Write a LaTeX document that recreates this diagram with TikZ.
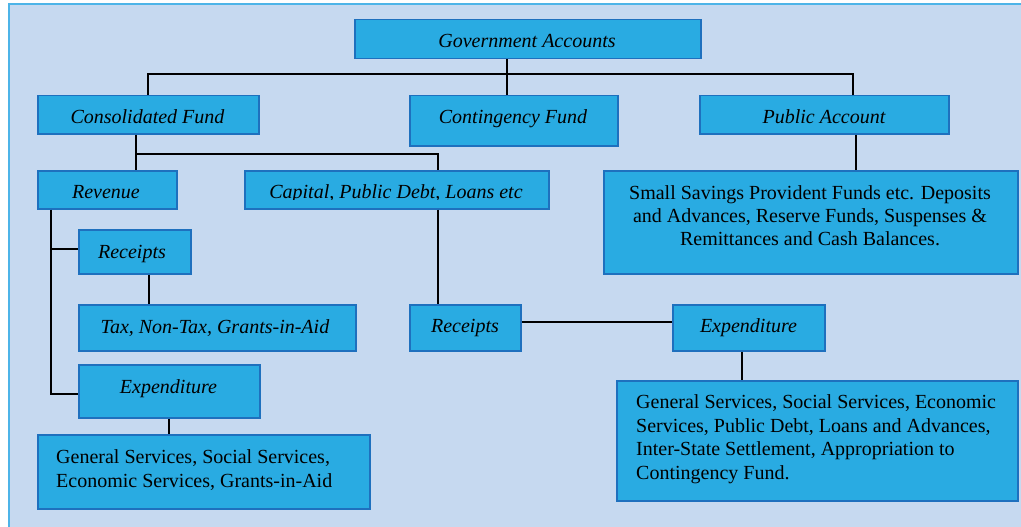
\documentclass[tikz,border=0pt]{standalone}
\usepackage{fontspec}
\setmainfont{Liberation Serif}
\usetikzlibrary{calc}
\definecolor{bgfill}{RGB}{198,217,240}
\definecolor{bgline}{RGB}{77,180,232}
\definecolor{boxfill}{RGB}{41,171,226}
\definecolor{boxline}{RGB}{30,112,190}
\tikzset{
  box/.style={draw=boxline, fill=boxfill, line width=1.5pt, inner sep=0pt, anchor=north west},
  lbl/.style={anchor=base, inner sep=0pt, font=\fontsize{20}{23}\selectfont\itshape},
  para/.style={anchor=base, inner sep=0pt, font=\fontsize{20}{23}\selectfont, align=center},
  paral/.style={anchor=base west, inner sep=0pt, font=\fontsize{20}{23.5}\selectfont, align=left},
  conn/.style={draw=black, line width=2pt},
}
\begin{document}
\begin{tikzpicture}[x=1pt,y=-1pt]
\useasboundingbox (0,0) rectangle (1021,527);
\draw[fill=bgfill, draw=bgline, line width=2pt] (9,4) rectangle (1024,530);

% boxes
\node[box, minimum width=346, minimum height=39] (gov) at (354,19) {};
\node[box, minimum width=221, minimum height=38] (cons) at (37,95) {};
\node[box, minimum width=208, minimum height=50] (cont) at (409,95) {};
\node[box, minimum width=249, minimum height=38] (pub) at (699,95) {};
\node[box, minimum width=139, minimum height=38] (rev) at (37,170) {};
\node[box, minimum width=304, minimum height=38] (cap) at (244,170) {};
\node[box, minimum width=414, minimum height=103] (sav) at (603,170) {};
\node[box, minimum width=112, minimum height=44] (recL) at (78,229) {};
\node[box, minimum width=277, minimum height=46] (tax) at (78,304) {};
\node[box, minimum width=181, minimum height=53] (expL) at (78,364) {};
\node[box, minimum width=332, minimum height=74] (genL) at (37,434) {};
\node[box, minimum width=111, minimum height=46] (recM) at (409,304) {};
\node[box, minimum width=152, minimum height=46] (expM) at (672,304) {};
\node[box, minimum width=401, minimum height=120] (genR) at (616,380) {};

% texts
\node[lbl] (tgov) at (527,48) {Government Accounts};
\begin{scope}
\clip (37,95) rectangle (258,125);
\node[lbl] (tcons) at (147.5,124) {Consolidated Fund};
\end{scope}
\node[lbl] (tcont) at (513,124) {Contingency Fund};
\begin{scope}
\clip (699,95) rectangle (948,125);
\node[lbl] (tpub) at (824,124) {Public Account};
\end{scope}
\begin{scope}
\clip (37,170) rectangle (176,199);
\node[lbl] (trev) at (106,198) {Revenue};
\end{scope}
\begin{scope}
\clip (244,170) rectangle (548,199);
\node[lbl] (tcap) at (396,198) {Capital, Public Debt, Loans etc};
\end{scope}
\node[para] (tsav) at (810,245) {Small Savings Provident Funds etc. Deposits\\and Advances, Reserve Funds, Suspenses \&\\Remittances and Cash Balances.};
\node[lbl] (trecL) at (132,258) {Receipts};
\node[lbl] (ttax) at (215,333) {Tax, Non-Tax, Grants-in-Aid};
\node[lbl] (texpL) at (168.5,393) {Expenditure};
\node[paral] (tgenL) at (56,487) {General Services, Social Services,\\Economic Services, Grants-in-Aid};
\node[lbl] (trecM) at (465,332) {Receipts};
\node[lbl] (texpM) at (748.5,332) {Expenditure};
\node[paral] (tgenR) at (636,479) {General Services, Social Services, Economic\\Services, Public Debt, Loans and Advances,\\Inter-State Settlement, Appropriation to\\Contingency Fund.};

% connectors
\coordinate (busA) at (0,74);
\coordinate (busB) at (0,154);
\coordinate (govOut) at ([xshift=-21pt]gov.south);
\coordinate (pubIn) at ([xshift=28.5pt]pub.north);
\coordinate (consOut) at ([xshift=-12.5pt]cons.south);
\coordinate (capIn) at ([xshift=41pt]cap.north);
\coordinate (capOut) at ([xshift=41pt]cap.south);
\coordinate (pubOut) at ([xshift=31.5pt]pub.south);
\coordinate (revOut) at ([xshift=14pt]rev.south west);
\coordinate (recLIn) at ([yshift=3pt]recL.west);
\coordinate (expLIn) at ([yshift=-2.5pt]expL.west);
\coordinate (recLOut) at ([xshift=14pt]recL.south);
\coordinate (recMOut) at ([yshift=6pt]recM.east);
\coordinate (expMOut) at ([xshift=-7pt]expM.south);

\draw[conn] (govOut) -- (govOut |- cont.north);
\draw[conn] (cons.north) -- (cons.north |- busA) -- (pubIn |- busA) -- (pubIn);
\draw[conn] (consOut) -- (consOut |- rev.north);
\draw[conn] (consOut |- busB) -| (capIn);
\draw[conn] (pubOut) -- (pubOut |- sav.north);
\draw[conn] (revOut) |- (expLIn);
\draw[conn] (revOut |- recLIn) -- (recLIn);
\draw[conn] (recLOut) -- (recLOut |- tax.north);
\draw[conn] (expL.south) -- (expL.south |- genL.north);
\draw[conn] (capOut) -- (capOut |- recM.north);
\draw[conn] (recMOut) -- (recMOut -| expM.west);
\draw[conn] (expMOut) -- (expMOut |- genR.north);
\end{tikzpicture}
\end{document}
